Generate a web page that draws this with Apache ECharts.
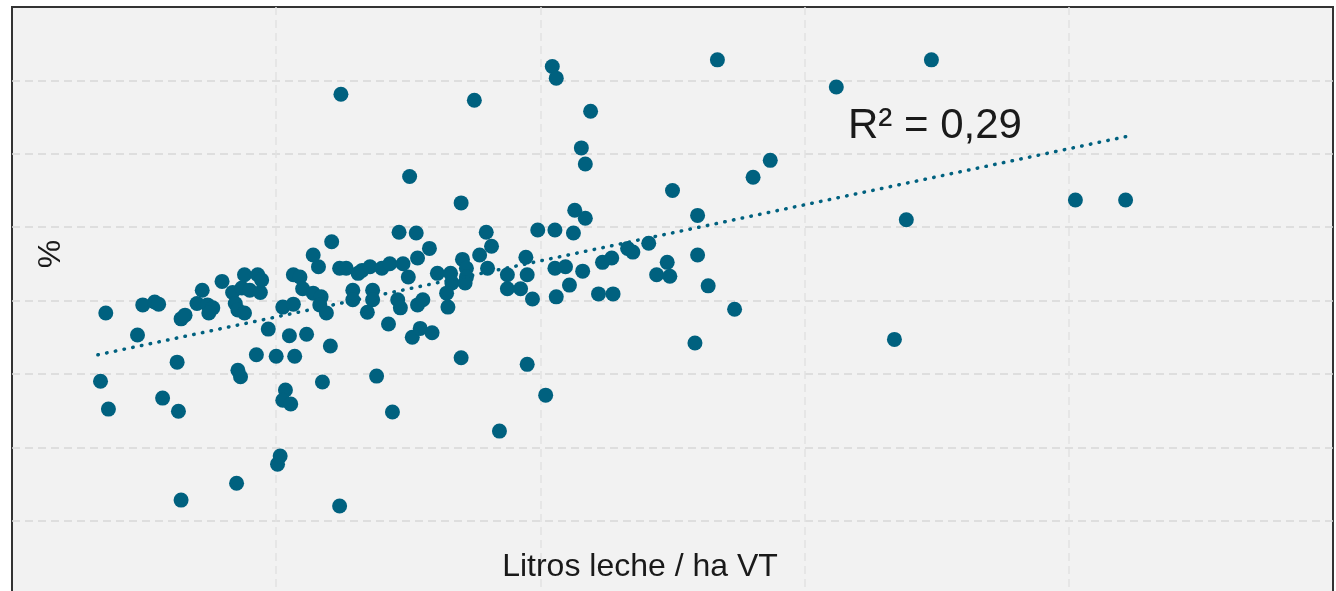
<!DOCTYPE html>
<html>
<head>
<meta charset="utf-8">
<script src="https://cdn.jsdelivr.net/npm/echarts@6/dist/echarts.min.js"></script>
<style>
  html, body { margin: 0; padding: 0; background: #fff; }
  #chart { width: 1336px; height: 591px; }
</style>
</head>
<body>
<div id="chart"></div>
<script>
// litros leche / ha VT por tambo
const litros = [
  670, 710, 730, 950, 990, 1080, 1110, 1140, 1250, 1260, 1280, 1310, 1280,
  1400, 1440, 1480, 1520, 1490, 1590, 1670, 1740, 1800, 1880, 1760, 1860, 1890,
  1690, 1710, 1760, 1940, 2050, 2130, 2130, 2180, 2200, 2280, 2340, 2330, 2380,
  2320, 2280, 2480, 2420,
  1850, 2000, 2140, 2100, 2230, 2410, 1710, 1730, 2070, 2050, 2110, 2350,
  1700, 2010, 2030, 2480, 2760, 2880,
  2530, 2620, 2650, 2710, 2800, 2860, 2960, 3000, 2580, 2580, 2730, 2730, 2690,
  2920, 2940, 3070, 3110, 2850, 3030, 3090, 3180, 2930, 3060, 3160, 3070,
  3220, 3320, 3330, 3290, 3300, 3410, 3440, 3440, 3430, 3590, 3630, 3540, 3600,
  3750, 3750, 3850, 3400, 3400, 3010, 2490, 3500,
  3890, 3900, 3940, 3980, 4110, 4250, 4260, 4340, 4110, 4190, 4320, 4220, 4120,
  4440, 4550, 4470, 4540, 4660, 4700, 4820, 4880, 4960, 4980, 5000, 5190, 5190,
  5270, 5470, 5170, 3900, 4040, 3690, 4090, 4120, 4380, 4310, 4340,
  5340, 5610, 5740, 6240, 6960, 6770, 6680, 8050, 8430
];
// % (eje vertical)
const pct = [
  29.0, 38.3, 25.2, 35.3, 39.4, 39.8, 39.5, 26.7, 31.6, 24.9, 37.5, 38.0, 12.8,
  39.6, 41.4, 39.4, 39.0, 38.3, 42.6, 41.1, 41.7, 41.4, 41.1, 43.5, 43.5, 42.8,
  39.6, 38.7, 38.3, 36.1, 39.1, 39.5, 43.5, 43.2, 41.6, 41.0, 40.5, 39.4, 38.3,
  44.6, 46.2, 44.4, 48.0,
  32.6, 32.4, 32.4, 35.2, 35.4, 33.8, 30.5, 29.6, 27.8, 26.4, 25.9, 28.9,
  15.1, 17.7, 18.8, 12.0, 29.7, 24.8,
  44.4, 43.7, 44.1, 44.6, 44.4, 45.0, 45.0, 43.2, 41.4, 40.1, 41.4, 40.1, 38.4,
  40.1, 39.0, 39.4, 40.1, 36.8, 35.0, 36.2, 35.6, 49.3, 49.2, 47.1, 45.8,
  43.7, 43.7, 42.4, 41.0, 39.1, 45.6, 44.4, 43.2, 42.4, 49.3, 47.4, 46.2, 44.4,
  43.5, 41.6, 41.6, 32.2, 53.3, 56.9, 68.1, 67.3,
  45.9, 43.5, 40.2, 49.6, 49.6, 49.2, 52.3, 51.2, 44.4, 44.6, 44.0, 42.1, 40.5,
  40.9, 40.9, 45.2, 45.8, 47.1, 46.6, 47.8, 43.5, 45.2, 43.3, 55.0, 51.6, 46.2,
  42.0, 38.8, 34.2, 31.3, 27.1, 22.2, 71.9, 70.3, 65.8, 60.8, 58.6,
  72.8, 56.8, 59.1, 69.1, 72.8, 51.0, 34.7, 53.7, 53.7
];
// recta de tendencia (extremos)
const trendX = [650, 8450];
const trendY = [32.6, 62.4];
const r2Label = 'R² = 0,29';

const mainColor = '#00617f';
const chart = echarts.init(document.getElementById('chart'));

chart.setOption({
  animation: false,
  backgroundColor: '#ffffff',
  grid: {
    left: 12,
    top: 7,
    width: 1321,
    height: 587,
    outerBoundsMode: 'none',
    show: true,
    backgroundColor: '#f2f2f2',
    borderColor: '#333333',
    borderWidth: 2
  },
  xAxis: {
    type: 'value',
    min: 0,
    max: 10000,
    interval: 2000,
    axisLine: { show: false },
    axisTick: { show: false },
    axisLabel: { show: false },
    splitLine: {
      showMinLine: false,
      showMaxLine: false,
      lineStyle: { color: '#e2e2e2', width: 1.5, type: [8, 5] }
    }
  },
  yAxis: {
    type: 'value',
    min: 0,
    max: 80,
    interval: 10,
    axisLine: { show: false },
    axisTick: { show: false },
    axisLabel: { show: false },
    splitLine: {
      showMinLine: false,
      showMaxLine: false,
      lineStyle: { color: '#d8d8d8', width: 1.5, type: [8, 5] }
    }
  },
  series: [
    {
      type: 'scatter',
      symbolSize: 15,
      itemStyle: { color: mainColor, opacity: 1 },
      data: litros.map((x, i) => [x, pct[i]])
    },
    {
      type: 'line',
      showSymbol: false,
      z: 3,
      lineStyle: { color: mainColor, width: 3.5, type: [0.5, 8.4], cap: 'round' },
      data: trendX.map((x, i) => [x, trendY[i]])
    }
  ],
  graphic: [
    {
      type: 'text',
      x: 848,
      y: 126,
      z: 10,
      style: {
        text: r2Label,
        font: '42px "Liberation Sans", Arial, sans-serif',
        fill: '#1a1a1a',
        verticalAlign: 'middle'
      }
    },
    {
      type: 'text',
      x: 640,
      y: 567,
      z: 10,
      style: {
        text: 'Litros leche / ha VT',
        font: '32px "Liberation Sans", Arial, sans-serif',
        fill: '#1a1a1a',
        align: 'center',
        verticalAlign: 'middle'
      }
    },
    {
      type: 'text',
      x: 51,
      y: 254,
      rotation: Math.PI / 2,
      z: 10,
      style: {
        text: '%',
        font: '32px "Liberation Sans", Arial, sans-serif',
        fill: '#1a1a1a',
        align: 'center',
        verticalAlign: 'middle'
      }
    }
  ]
});
</script>
</body>
</html>
